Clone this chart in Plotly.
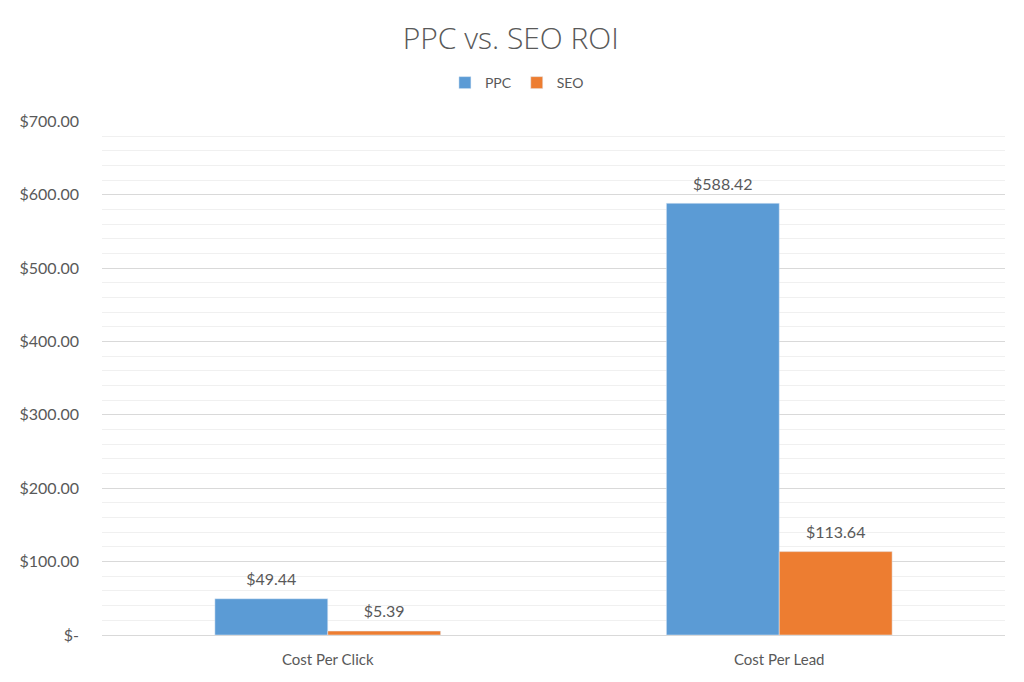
import plotly.graph_objects as go

# dados do gráfico
categorias = ["Cost Per Click", "Cost Per Lead"]
ppc = [49.44, 588.42]
seo = [5.39, 113.64]
rotulos_ppc = ["$49.44", "$588.42"]
rotulos_seo = ["$5.39", "$113.64"]
ticks_y = [0, 100, 200, 300, 400, 500, 600, 700]
ticks_y_texto = ["$-", "$100.00", "$200.00", "$300.00", "$400.00", "$500.00", "$600.00", "$700.00"]

cinza = "#595959"
fonte = "Lato, 'Open Sans', sans-serif"

fig = go.Figure()
fig.add_trace(go.Bar(x=categorias, y=ppc, name="PPC", marker_color="#5B9BD5", offsetgroup="ppc"))
fig.add_trace(go.Bar(x=categorias, y=seo, name="SEO", marker_color="#ED7D31", offsetgroup="seo"))

# rótulos de valor: scatter só com texto, alinhado com as barras do grupo
for valores, rotulos, grupo in [(ppc, rotulos_ppc, "ppc"), (seo, rotulos_seo, "seo")]:
    fig.add_trace(go.Scatter(x=categorias, y=valores, text=rotulos, mode="markers+text",
                             marker=dict(size=14, opacity=0), textposition="top center",
                             textfont=dict(size=16, color=cinza), offsetgroup=grupo,
                             showlegend=False, hoverinfo="skip", cliponaxis=False))

# a página tem 8px de margem no body, por isso as margens estão compensadas
fig.update_layout(
    width=1024, height=682,
    paper_bgcolor="white", plot_bgcolor="white",
    font=dict(family=fonte, color=cinza, size=15),
    title=dict(text="PPC vs. SEO ROI", xref="container", x=0.491, xanchor="center",
               yref="container", y=0.956, yanchor="middle",
               font=dict(family="'Open Sans', sans-serif", size=30, color=cinza, weight=300)),
    legend=dict(orientation="h", xref="container", x=0.497, xanchor="center",
                yref="container", y=0.89, yanchor="middle",
                font=dict(size=14, color=cinza), itemwidth=30),
    barmode="group", bargap=0.5, bargroupgap=0,
    scattermode="group", scattergap=0.5,
    margin=dict(l=92, r=27, t=106, b=55),
    showlegend=True,
)
fig.update_yaxes(range=[0, 700], tickvals=ticks_y, ticktext=ticks_y_texto,
                 showgrid=True, gridcolor="#d9d9d9", gridwidth=1,
                 zeroline=True, zerolinecolor="#d9d9d9", zerolinewidth=1,
                 minor=dict(dtick=20, showgrid=True, gridcolor="#f0f0f0", gridwidth=1),
                 ticks="", ticklabelstandoff=22, tickfont=dict(size=16, color=cinza))
fig.update_xaxes(showline=False, ticks="", ticklabelstandoff=14,
                 tickfont=dict(size=15, color=cinza))

fig.write_html("out.html")
